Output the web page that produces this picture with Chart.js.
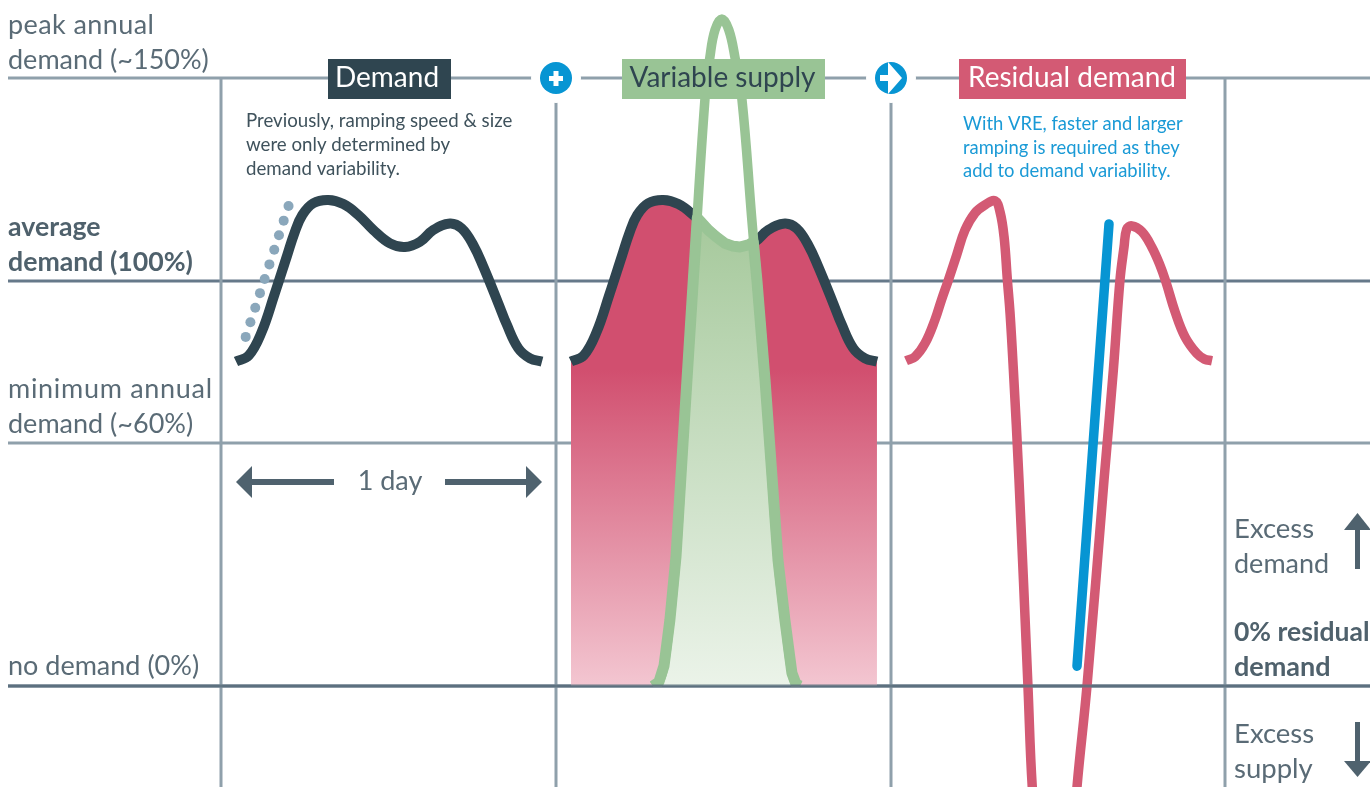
<!DOCTYPE html>
<html>
<head>
<meta charset="utf-8">
<title>Residual demand</title>
<script src="https://cdn.jsdelivr.net/npm/chart.js@4"></script>
<style>
  html, body { margin: 0; padding: 0; background: #fff; }
  canvas { display: block; }
</style>
</head>
<body>
<canvas id="myChart" width="1370" height="787"></canvas>
<script>
// x values are hours of the day (0-24), y values are % of average demand
var dayOffsets = [0, 26.27, 52.55]; // each panel is shifted along the x axis
var dividers = [-1.18, 25.1, 51.37, 77.57]; // vertical lines, in hours
var levels = [150, 100, 60, 0];
var levelLabels = [['peak annual', 'demand (~150%)'], ['average', 'demand (100%)'], ['minimum annual', 'demand (~60%)'], ['no demand (0%)']];

var demandHours = [0, 1.0, 2.0, 3.0, 4.0, 4.6, 5.2, 6.06, 7.24, 8.42, 9.59, 10.77, 12.08, 13.25, 14.43, 15.47, 16.78, 17.7, 18.61, 19.4, 20.57, 21.23, 22.14, 23.06, 24];
var demandValues = [80.1, 81.6, 87.3, 96.5, 106.2, 112, 116.3, 119.2, 120, 119, 116.3, 112.6, 109.3, 108.4, 109.7, 112.6, 114.2, 113, 108.9, 103.5, 94.5, 89.3, 83.4, 80.9, 80.1];

var rampHours = [0.76, 1.13, 1.51, 1.88, 2.25, 2.62, 3.0, 3.37, 3.74, 4.12];
var rampValues = [86.2, 89.8, 93.4, 97, 100.5, 104.1, 107.7, 111.3, 114.9, 118.5];

var supplyHours = [6.43, 6.9, 7.3, 7.76, 8.24, 8.75, 9.1, 9.59, 10.51, 10.9, 11.3, 11.84, 12.38, 12.86, 13.41, 14.17, 14.59, 15.22, 16.24, 16.78, 17.33, 17.65, 17.96];
var supplyValues = [0, 1, 5, 16.3, 32, 58, 75.6, 100, 144.9, 155.3, 162, 164.7, 162, 155.3, 144.9, 115.8, 100, 75.6, 31.1, 16.3, 3.2, 0.5, 0];

// part of the demand that variable supply covers
var coveredHours = [6.43, 6.9, 7.3, 7.76, 8.24, 8.75, 9.1, 9.59, 9.91, 10.77, 11.4, 12.08, 12.7, 13.25, 13.9, 14.3, 14.59, 15.22, 16.24, 16.78, 17.33, 17.65, 17.96];
var coveredValues = [0, 1, 5, 16.3, 32, 58, 75.6, 100, 115.6, 112.6, 110.9, 109.3, 108.6, 108.4, 108.9, 109.6, 100, 75.6, 31.1, 16.3, 3.2, 0.5, 0];

var residualHours = [0, 0.71, 1.49, 2.27, 2.8, 3.32, 3.98, 4.63, 5.41, 6.2, 6.98, 7.37, 7.69, 7.95, 8.16, 8.42, 8.86, 9.56, 9.9, 10.51, 11.69, 12.86, 13.41, 14.2, 15.53, 16.26, 16.78, 17.1, 17.31, 17.7, 18.49, 19.27, 19.92, 20.37, 21.1, 21.88, 22.8, 23.4, 24];
var residualValues = [80.3, 81.3, 84.6, 90.4, 95.5, 100.2, 106.5, 112.6, 116.8, 118.8, 119.8, 117.1, 110.9, 100.2, 92, 78, 50.9, 0.2, -24.9, -47.9, -62.7, -47.9, -24.9, 0.2, 50.9, 78, 100.2, 108.4, 112.8, 113.6, 112.2, 108.4, 103.9, 99.9, 92.4, 86.2, 82.1, 80.7, 80.3];

var fastRampHours = [15.92, 13.41];
var fastRampValues = [114.1, 4.9];

var DARK = '#2f4550', GREEN = '#99c495', RED = '#d35a74', BLUE = '#0795d3', GREY = '#5a6b76', GREY_BOLD = '#4f616c';
var LINE_LIGHT = '#8fa0ab', LINE_DARK = '#66798a';
var FONT = 'Lato, sans-serif';
var labelGaps = [9, 10, 10, 11]; // px between label and its line

// turn hours + values into chart points, shifted to the right panel
function toPoints(hours, values, panel) {
    return hours.map(function(h, i) {
        return { x: h + dayOffsets[panel], y: values[i] };
    });
}

function gradient(context, top, topColor, bottomColor) {
    var chart = context.chart;
    if (!chart.chartArea) return topColor;
    var y = chart.scales.y;
    var g = chart.ctx.createLinearGradient(0, y.getPixelForValue(top), 0, y.getPixelForValue(0));
    g.addColorStop(0, topColor);
    g.addColorStop(1, bottomColor);
    return g;
}

function text(ctx, str, x, y, size, color, weight, align, spacing) {
    ctx.font = (weight || 400) + ' ' + size + 'px ' + FONT;
    ctx.fillStyle = color;
    ctx.textAlign = align || 'left';
    ctx.textBaseline = 'alphabetic';
    ctx.letterSpacing = spacing || '0px';
    ctx.fillText(str, x, y);
    ctx.letterSpacing = '0px';
}

function polygon(ctx, pts, color) {
    ctx.fillStyle = color;
    ctx.beginPath();
    pts.forEach(function(p, i) {
        if (i == 0) ctx.moveTo(p[0], p[1]); else ctx.lineTo(p[0], p[1]);
    });
    ctx.closePath();
    ctx.fill();
}

function titleBox(ctx, label, left, right, center, fill, color) {
    ctx.fillStyle = fill;
    ctx.fillRect(left, 59, right - left, 40);
    text(ctx, label, center, 87, 28, color, 400, 'center');
}

function badge(ctx, cx, cy) {
    ctx.fillStyle = '#fff';
    ctx.beginPath();
    ctx.arc(cx, cy, 25, 0, Math.PI * 2);
    ctx.fill();
    ctx.fillStyle = BLUE;
    ctx.beginPath();
    ctx.arc(cx, cy, 16, 0, Math.PI * 2);
    ctx.fill();
}

var gridPlugin = {
    id: 'grid',
    beforeDatasetsDraw: function(chart) {
        var ctx = chart.ctx, x = chart.scales.x, y = chart.scales.y;
        ctx.save();
        ctx.lineWidth = 3;
        levels.forEach(function(level) {
            ctx.strokeStyle = (level == 100 || level == 0) ? LINE_DARK : LINE_LIGHT;
            ctx.beginPath();
            ctx.moveTo(8, Math.round(y.getPixelForValue(level)));
            ctx.lineTo(1370, Math.round(y.getPixelForValue(level)));
            ctx.stroke();
        });
        ctx.strokeStyle = LINE_LIGHT;
        dividers.forEach(function(d) {
            ctx.beginPath();
            ctx.moveTo(Math.round(x.getPixelForValue(d)), y.getPixelForValue(150));
            ctx.lineTo(Math.round(x.getPixelForValue(d)), 787);
            ctx.stroke();
        });
        ctx.restore();
    },
    afterDatasetsDraw: function(chart) {
        var ctx = chart.ctx, y = chart.scales.y;
        ctx.save();

        // zero line runs over the curves
        ctx.strokeStyle = 'rgba(90, 110, 125, 0.85)';
        ctx.lineWidth = 3;
        ctx.beginPath();
        ctx.moveTo(8, Math.round(y.getPixelForValue(0)));
        ctx.lineTo(1370, Math.round(y.getPixelForValue(0)));
        ctx.stroke();

        // labels sit just above their level line
        levelLabels.forEach(function(lines, n) {
            var base = Math.round(y.getPixelForValue(levels[n])) - labelGaps[n] - (lines.length - 1) * 35;
            lines.forEach(function(line, i) {
                if (n == 1) text(ctx, line, 8, base + i * 35, 26.7, GREY_BOLD, 700);
                else if (line == 'minimum annual') text(ctx, line, 8, base + i * 35, 27, GREY, 400, 'left', '0.7px');
                else if (line == 'peak annual') text(ctx, line, 8, base + i * 35, 27, GREY, 400, 'left', '0.4px');
                else text(ctx, line, 8, base + i * 35, 27, GREY, 400);
            });
        });

        // panel headers
        titleBox(ctx, 'Demand', 328, 451, 387, DARK, '#fff');
        titleBox(ctx, 'Variable supply', 622, 825, 722.5, GREEN, DARK);
        titleBox(ctx, 'Residual demand', 959, 1186, 1072, RED, '#fff');

        // + badge
        badge(ctx, 556, 78);
        ctx.fillStyle = '#fff';
        ctx.fillRect(549, 76, 14, 5);
        ctx.fillRect(553.5, 71, 5, 15);

        // = arrow badge
        badge(ctx, 891, 78);
        polygon(ctx, [[888, 62], [902, 78], [888, 94]], '#fff');
        ctx.fillStyle = '#fff';
        ctx.fillRect(880, 75, 9, 6);

        // notes
        ['Previously, ramping speed & size', 'were only determined by', 'demand variability.'].forEach(function(s, i) {
            text(ctx, s, 246, 127 + i * 24, 18.7, '#3f525c', 400);
        });
        ['With VRE, faster and larger', 'ramping is required as they', 'add to demand variability.'].forEach(function(s, i) {
            text(ctx, s, 963, 130 + i * 23.7, 18.4, '#1a9ad6', 400);
        });

        // 1 day arrow
        text(ctx, '1 day', 390, 490, 27, GREY, 400, 'center');
        ctx.fillStyle = '#4f626e';
        ctx.fillRect(250, 479, 84, 6);
        ctx.fillRect(445, 479, 84, 6);
        polygon(ctx, [[236, 482], [252, 466], [252, 498]], '#4f626e');
        polygon(ctx, [[542, 482], [526, 466], [526, 498]], '#4f626e');

        // right hand side
        text(ctx, 'Excess', 1234, 538, 27.5, GREY, 400);
        text(ctx, 'demand', 1234, 573, 27, GREY, 400);
        text(ctx, '0% residual', 1234, 641, 26.5, GREY_BOLD, 700);
        text(ctx, 'demand', 1234, 676, 27, GREY_BOLD, 700);
        text(ctx, 'Excess', 1234, 743, 27.5, GREY, 400);
        text(ctx, 'supply', 1234, 778, 27.5, GREY, 400);
        ctx.fillStyle = '#4f626e';
        ctx.fillRect(1355, 528, 5, 41);
        polygon(ctx, [[1357.5, 513], [1371, 530], [1344, 530]], '#4f626e');
        ctx.fillRect(1355, 722, 5, 42);
        polygon(ctx, [[1357.5, 777], [1371, 761], [1344, 761]], '#4f626e');

        ctx.restore();
    }
};

// green curves stop at the zero line
var cutAtZero = { left: 0, top: 0, right: 0, bottom: -100 };

var ctx = document.getElementById('myChart').getContext('2d');
var myChart = new Chart(ctx, {
    type: 'line',
    data: {
        datasets: [
            {
                label: 'Ramp (residual)',
                data: toPoints(fastRampHours, fastRampValues, 2),
                borderColor: BLUE,
                borderWidth: 9.5,
                borderCapStyle: 'round',
                order: 1
            },
            {
                label: 'Residual demand',
                data: toPoints(residualHours, residualValues, 2),
                borderColor: RED,
                borderWidth: 9.5,
                tension: 0.4,
                order: 2
            },
            {
                label: 'Variable supply',
                data: toPoints(supplyHours, supplyValues, 1),
                borderColor: GREEN,
                borderWidth: 9.5,
                tension: 0.4,
                clip: cutAtZero,
                order: 3
            },
            {
                label: 'Covered demand',
                data: toPoints(coveredHours, coveredValues, 1),
                borderColor: GREEN,
                borderWidth: 11,
                borderJoinStyle: 'round',
                clip: cutAtZero,
                fill: { value: 0 },
                backgroundColor: function(context) {
                    return gradient(context, 115, '#a6c99c', '#ebf3e9');
                },
                order: 4
            },
            {
                label: 'Demand (with supply)',
                data: toPoints(demandHours, demandValues, 1),
                borderColor: DARK,
                borderWidth: 10,
                tension: 0.4,
                fill: { value: 0 },
                backgroundColor: function(context) {
                    return gradient(context, 78, '#d14f6f', '#f3c6d1');
                },
                order: 5
            },
            {
                label: 'Ramp (demand)',
                data: toPoints(rampHours, rampValues, 0),
                showLine: false,
                pointRadius: 5,
                pointBackgroundColor: '#8aa7bb',
                pointBorderWidth: 0,
                order: 6
            },
            {
                label: 'Demand',
                data: toPoints(demandHours, demandValues, 0),
                borderColor: DARK,
                borderWidth: 10,
                tension: 0.4,
                order: 7
            }
        ]
    },
    options: {
        responsive: false,
        animation: false,
        layout: { padding: 0, autoPadding: false },
        elements: { point: { radius: 0 } },
        events: [],
        scales: {
            x: { type: 'linear', display: false, min: -18.51, max: 88.94 },
            y: { display: false, min: -24.94, max: 169.38 }
        },
        plugins: {
            legend: { display: false },
            tooltip: { enabled: false }
        }
    },
    plugins: [gridPlugin]
});
</script>
</body>
</html>
